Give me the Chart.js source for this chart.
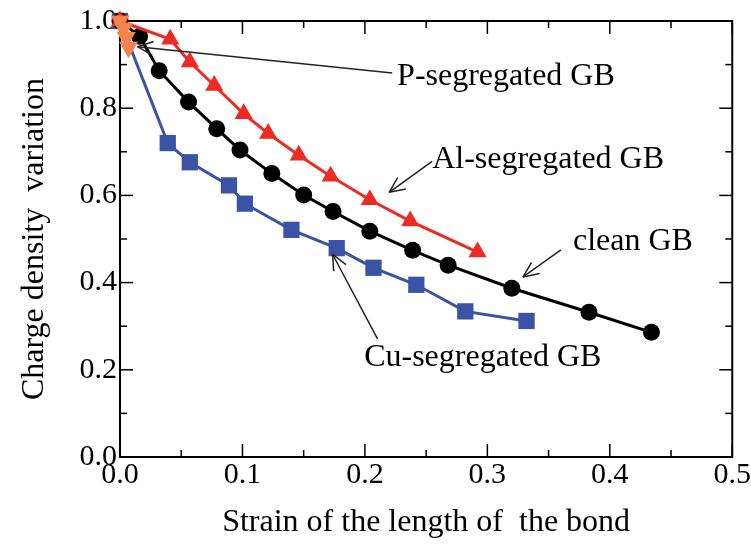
<!DOCTYPE html>
<html>
<head>
<meta charset="utf-8">
<script src="https://cdn.jsdelivr.net/npm/chart.js@4.4.1/dist/chart.umd.min.js"></script>
<style>
  html, body { margin: 0; padding: 0; background: #fff; }
</style>
</head>
<body>
<canvas id="bondChart" width="751" height="547"></canvas>
<script>
// bond strain vs. normalised charge density
const cleanStrain = [0, 0.016, 0.032, 0.056, 0.079, 0.098, 0.124, 0.150, 0.174, 0.204, 0.239, 0.268, 0.320, 0.383, 0.434];
const cleanCharge = [1.0, 0.965, 0.886, 0.814, 0.753, 0.704, 0.650, 0.601, 0.563, 0.518, 0.474, 0.440, 0.387, 0.332, 0.286];

const alStrain = [0, 0.041, 0.057, 0.077, 0.101, 0.121, 0.146, 0.172, 0.204, 0.237, 0.292];
const alCharge = [1.0, 0.958, 0.906, 0.852, 0.787, 0.742, 0.692, 0.644, 0.590, 0.541, 0.470];

const cuStrain = [0, 0.039, 0.057, 0.089, 0.102, 0.140, 0.177, 0.207, 0.242, 0.282, 0.332];
const cuCharge = [1.0, 0.720, 0.676, 0.623, 0.581, 0.521, 0.479, 0.434, 0.395, 0.334, 0.312];

const pStrain = [0, 0.003, 0.005, 0.007];
const pCharge = [1.0, 0.983, 0.962, 0.940];

const xTicks = [0, 0.1, 0.2, 0.3, 0.4, 0.5];
const yTicks = [0, 0.2, 0.4, 0.6, 0.8, 1.0];
const xMinorStep = 0.05;
const yMinorStep = 0.1;

// callout labels with arrows (data units)
const callouts = [
  { text: 'P-segregated GB',  tx: 0.2263, ty: 0.854, from: [0.2223, 0.881], to: [0.0143, 0.941] },
  { text: 'Al-segregated GB', tx: 0.2549, ty: 0.662, from: [0.2549, 0.678], to: [0.2198, 0.607] },
  { text: 'clean GB',         tx: 0.3699, ty: 0.475, from: [0.3601, 0.475], to: [0.3291, 0.413] },
  { text: 'Cu-segregated GB', tx: 0.1994, ty: 0.208, from: [0.2103, 0.271], to: [0.1736, 0.465] }
];

const pts = (xs, ys) => xs.map((v, i) => ({ x: v, y: ys[i] }));
const serif = '"Liberation Serif", "Times New Roman", serif';

function line(ctx, x1, y1, x2, y2) {
  ctx.beginPath();
  ctx.moveTo(x1, y1);
  ctx.lineTo(x2, y2);
  ctx.stroke();
}

// box frame with inward ticks on all four sides
const frameTicks = {
  id: 'frameTicks',
  beforeDatasetsDraw(chart) {
    const { ctx, chartArea: a, scales: { x, y } } = chart;
    ctx.save();
    ctx.strokeStyle = '#000';
    ctx.lineWidth = 1.5;
    const nx = Math.round((x.max - x.min) / xMinorStep);
    for (let i = 0; i <= nx; i++) {
      const px = x.getPixelForValue(x.min + i * xMinorStep);
      const len = i % 2 === 0 ? 13 : 7;
      line(ctx, px, a.bottom, px, a.bottom - len);
      line(ctx, px, a.top, px, a.top + len);
    }
    const ny = Math.round((y.max - y.min) / yMinorStep);
    for (let i = 0; i <= ny; i++) {
      const py = y.getPixelForValue(y.min + i * yMinorStep);
      const len = i % 2 === 0 ? 13 : 7;
      line(ctx, a.left, py, a.left + len, py);
      line(ctx, a.right, py, a.right - len, py);
    }
    ctx.lineWidth = 2;
    ctx.strokeRect(a.left, a.top, a.right - a.left, a.bottom - a.top);
    ctx.restore();
  }
};

const calloutPlugin = {
  id: 'callouts',
  afterDraw(chart) {
    const { ctx, scales: { x, y } } = chart;
    ctx.save();
    ctx.strokeStyle = '#222';
    ctx.fillStyle = '#000';
    ctx.lineWidth = 1.5;
    ctx.font = '32px ' + serif;
    ctx.textBaseline = 'alphabetic';
    callouts.forEach(c => {
      const x1 = x.getPixelForValue(c.from[0]), y1 = y.getPixelForValue(c.from[1]);
      const x2 = x.getPixelForValue(c.to[0]), y2 = y.getPixelForValue(c.to[1]);
      line(ctx, x1, y1, x2, y2);
      const ang = Math.atan2(y2 - y1, x2 - x1);
      const head = 17, spread = 0.42;
      line(ctx, x2, y2, x2 - head * Math.cos(ang - spread), y2 - head * Math.sin(ang - spread));
      line(ctx, x2, y2, x2 - head * Math.cos(ang + spread), y2 - head * Math.sin(ang + spread));
      ctx.fillText(c.text, x.getPixelForValue(c.tx), y.getPixelForValue(c.ty));
    });
    ctx.restore();
  }
};

new Chart(document.getElementById('bondChart'), {
  type: 'line',
  data: {
    datasets: [
      {
        label: 'P-segregated GB',
        data: pts(pStrain, pCharge),
        borderColor: '#F4834F',
        backgroundColor: '#F4834F',
        borderWidth: 3,
        pointStyle: 'triangle',
        pointRotation: 180,
        pointRadius: 11,
        pointBorderWidth: 0,
        order: 0
      },
      {
        label: 'Al-segregated GB',
        data: pts(alStrain, alCharge),
        borderColor: '#EE2A24',
        backgroundColor: '#EE2A24',
        borderWidth: 3,
        pointStyle: 'triangle',
        pointRadius: 10.5,
        pointBorderWidth: 0,
        order: 1
      },
      {
        label: 'clean GB',
        data: pts(cleanStrain, cleanCharge),
        borderColor: '#000',
        backgroundColor: '#000',
        borderWidth: 3,
        pointStyle: 'circle',
        pointRadius: 8.5,
        pointBorderWidth: 0,
        order: 2
      },
      {
        label: 'Cu-segregated GB',
        data: pts(cuStrain, cuCharge),
        borderColor: '#3A53A4',
        backgroundColor: '#3A53A4',
        borderWidth: 3,
        pointStyle: 'rect',
        pointRadius: 11.5,
        pointBorderWidth: 0,
        order: 3
      }
    ]
  },
  options: {
    responsive: false,
    animation: false,
    clip: false,
    layout: { padding: { top: 19, right: 18, left: 0, bottom: 0 } },
    plugins: {
      legend: { display: false },
      tooltip: { enabled: false }
    },
    elements: { line: { tension: 0 } },
    scales: {
      x: {
        type: 'linear',
        min: 0,
        max: 0.5,
        afterFit: s => { s.height = 90; },
        afterBuildTicks: s => { s.ticks = xTicks.map(v => ({ value: v })); },
        grid: { display: false, drawTicks: false },
        border: { display: false },
        ticks: {
          autoSkip: false,
          maxRotation: 0,
          padding: 0,
          color: '#000',
          font: { family: serif, size: 30 },
          callback: v => v.toFixed(1)
        },
        title: {
          display: true,
          text: 'Strain of the length of  the bond',
          color: '#000',
          font: { family: serif, size: 32 },
          padding: { top: 0, bottom: 5 }
        }
      },
      y: {
        type: 'linear',
        min: 0,
        max: 1,
        afterFit: s => { s.width = 120; },
        afterBuildTicks: s => { s.ticks = yTicks.map(v => ({ value: v })); },
        grid: { display: false, drawTicks: false },
        border: { display: false },
        ticks: {
          autoSkip: false,
          padding: 3,
          color: '#000',
          font: { family: serif, size: 30 },
          callback: v => v.toFixed(1)
        },
        title: {
          display: true,
          text: 'Charge density  variation',
          color: '#000',
          font: { family: serif, size: 32 },
          padding: { top: 15, bottom: 0 }
        }
      }
    }
  },
  plugins: [frameTicks, calloutPlugin]
});
</script>
</body>
</html>
